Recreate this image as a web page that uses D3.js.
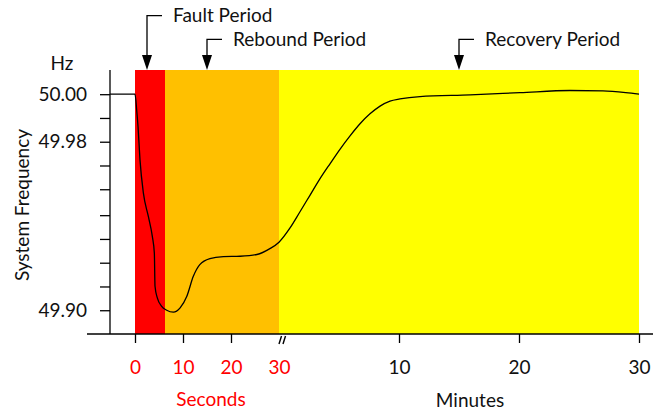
<!DOCTYPE html>
<html>
<head>
<meta charset="utf-8">
<script src="https://cdn.jsdelivr.net/npm/d3@7"></script>
<style>
    body { margin: 0; background: #fff; }
    svg text { font-family: Lato, "Open Sans", sans-serif; font-size: 19px; }
</style>
</head>
<body>
<script>

// ================================================================================================
// Data

// Frequency during the first 30 seconds (time in seconds, frequency in Hz)
var sec_time = [-5.2, 0, 0.35, 0.63, 1.04, 1.74, 2.78, 3.61, 4.03, 4.17, 4.65, 5.56, 6.6, 8.0,
    9.4, 10.8, 12.15, 13.5, 15.6, 18.4, 21.9, 25.4, 28.1, 30];
var sec_freq = [50.0, 50.0, 49.9927, 49.985, 49.9696, 49.9543, 49.9434, 49.9342, 49.9265, 49.9111,
    49.9057, 49.9018, 49.9, 49.8991, 49.9011, 49.9065, 49.9157, 49.9211, 49.9239, 49.9248,
    49.925, 49.9258, 49.9285, 49.9315];

// Frequency after 30 seconds (time in minutes, frequency in Hz)
var min_time = [0.92, 1.75, 2.58, 3.42, 4.25, 5.08, 5.92, 6.75, 7.58, 8.42, 9.25, 10.08, 11.75,
    15.92, 20.08, 24.25, 27, 28.9, 30];
var min_freq = [49.9381, 49.9456, 49.9532, 49.9609, 49.9678, 49.9745, 49.9807, 49.9863, 49.9909,
    49.9945, 49.9968, 49.9978, 49.9989, 49.9997, 50.0007, 50.0017, 50.0015, 50.0007, 50.0];

// Periods: [start, end] on their own scale, 's' = seconds, 'm' = minutes
var period_names = ['Fault Period', 'Rebound Period', 'Recovery Period'];
var period_units = ['s', 's', 'm'];
var period_start = [0, 6.25, 0];
var period_end = [6.25, 30, 30];
var period_colors = ['#ff0000', '#ffc000', '#ffff00'];
// Where each period arrow points
var period_arrow = [2.5, 15, 15];

// Axis ticks
var sec_ticks = [0, 10, 20, 30];
var min_ticks = [10, 20, 30];
var y_ticks = [50.0, 49.989, 49.978, 49.967, 49.956, 49.944, 49.933, 49.922, 49.911, 49.9];
var y_tick_labels = ['50.00', '', '49.98', '', '', '', '', '', '', '49.90'];

// ================================================================================================
// Chart

var width = 653, height = 413;
var top_y = 70, bottom_y = 334;

var svg = d3.select('body').append('svg')
    .attr('width', width)
    .attr('height', height);

// Broken time axis: seconds on the left part, minutes on the right part
var xs = d3.scaleLinear().domain([0, 30]).range([135, 279]);
var xm = d3.scaleLinear().domain([0, 30]).range([279, 639]);
var y = d3.scaleLinear().domain([49.889, 50.0112]).range([bottom_y, top_y]);

function xpos(unit, v) {
    return unit === 's' ? xs(v) : xm(v);
}

// Period backgrounds
svg.selectAll('rect.period')
    .data(period_names)
    .enter()
    .append('rect')
    .attr('class', 'period')
    .attr('x', function (d, i) { return xpos(period_units[i], period_start[i]); })
    .attr('width', function (d, i) {
        return xpos(period_units[i], period_end[i]) - xpos(period_units[i], period_start[i]);
    })
    .attr('y', top_y)
    .attr('height', bottom_y - top_y)
    .attr('fill', function (d, i) { return period_colors[i]; });

// Y axis
var y_axis = d3.axisLeft(y)
    .tickValues(y_ticks)
    .tickSize(10)
    .tickPadding(13)
    .tickFormat(function (d, i) { return y_tick_labels[i]; });

var gy = svg.append('g')
    .attr('transform', 'translate(110,0)')
    .call(y_axis);
gy.select('.domain').remove();
gy.selectAll('line').attr('stroke-width', 1.3);
gy.selectAll('text').attr('font-size', null).attr('font-family', null).attr('fill', '#111');
gy.append('line')
    .attr('x1', 0).attr('x2', 0)
    .attr('y1', top_y).attr('y2', bottom_y)
    .attr('stroke', '#000')
    .attr('stroke-width', 1.3);

// X axis line
svg.append('line')
    .attr('x1', 87).attr('x2', width)
    .attr('y1', bottom_y).attr('y2', bottom_y)
    .attr('stroke', '#000')
    .attr('stroke-width', 1.3);

// Seconds ticks (the 30 s tick is the break mark)
var gs = svg.append('g')
    .attr('transform', 'translate(0,' + bottom_y + ')')
    .call(d3.axisBottom(xs).tickValues(sec_ticks).tickSize(9).tickPadding(18));
gs.select('.domain').remove();
gs.selectAll('line')
    .attr('stroke-width', 1.3)
    .attr('opacity', function (d) { return d === 30 ? 0 : 1; });
gs.selectAll('text').attr('font-size', null).attr('font-family', null).attr('fill', '#ff0000');

// Minutes ticks
var gm = svg.append('g')
    .attr('transform', 'translate(0,' + bottom_y + ')')
    .call(d3.axisBottom(xm).tickValues(min_ticks).tickSize(9).tickPadding(18));
gm.select('.domain').remove();
gm.selectAll('line').attr('stroke-width', 1.3);
gm.selectAll('text').attr('font-size', null).attr('font-family', null).attr('fill', '#111');

// Break mark "//"
[0, 4].forEach(function (dx) {
    svg.append('line')
        .attr('x1', xs(30) + dx).attr('y1', bottom_y + 10)
        .attr('x2', xs(30) + dx + 2.5).attr('y2', bottom_y + 2)
        .attr('stroke', '#000')
        .attr('stroke-width', 1.4);
});

// Frequency curve
var points = [];
sec_time.forEach(function (t, i) { points.push([xs(t), y(sec_freq[i])]); });
min_time.forEach(function (t, i) { points.push([xm(t), y(min_freq[i])]); });

svg.append('path')
    .attr('d', d3.line().curve(d3.curveMonotoneX)(points))
    .attr('fill', 'none')
    .attr('stroke', '#000')
    .attr('stroke-width', 1.3);

// Period annotations with arrows
var arrow_y = [15.7, 39.3, 39.3];
period_names.forEach(function (name, i) {
    var x = xpos(period_units[i], period_arrow[i]);
    var ay = arrow_y[i];
    var g = svg.append('g');
    g.append('path')
        .attr('d', 'M' + (x + 15) + ',' + ay + 'H' + x + 'V' + (top_y - 14))
        .attr('fill', 'none')
        .attr('stroke', '#000')
        .attr('stroke-width', 1.3);
    g.append('path')
        .attr('d', 'M' + (x - 5) + ',' + (top_y - 15) + 'L' + (x + 5) + ',' + (top_y - 15) +
            'L' + x + ',' + top_y + 'Z')
        .attr('fill', '#000');
    g.append('text')
        .attr('x', x + 26)
        .attr('y', ay + 6.5)
        .attr('fill', '#111')
        .text(name);
});

// Axis titles
svg.append('text')
    .attr('x', 62).attr('y', 70)
    .attr('text-anchor', 'middle')
    .attr('fill', '#111')
    .text('Hz');

svg.append('text')
    .attr('transform', 'translate(29,205) rotate(-90)')
    .attr('text-anchor', 'middle')
    .attr('fill', '#111')
    .text('System Frequency');

svg.append('text')
    .attr('x', 211).attr('y', 406)
    .attr('text-anchor', 'middle')
    .attr('fill', '#ff0000')
    .text('Seconds');

svg.append('text')
    .attr('x', 470).attr('y', 407)
    .attr('text-anchor', 'middle')
    .attr('fill', '#111')
    .text('Minutes');

</script>
</body>
</html>
